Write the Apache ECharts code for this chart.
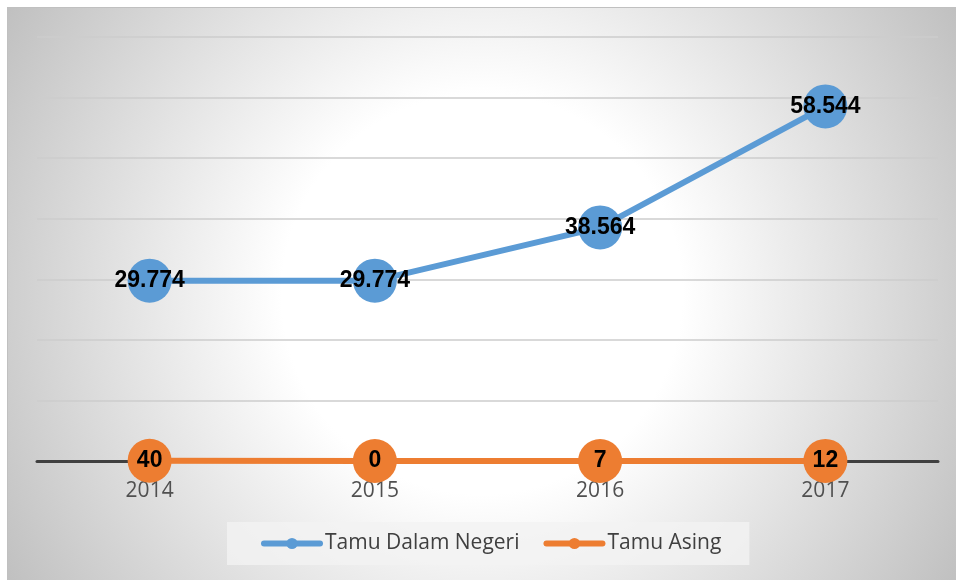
<!DOCTYPE html>
<html>
<head>
<meta charset="utf-8">
<script src="https://cdn.jsdelivr.net/npm/echarts@6/dist/echarts.min.js"></script>
<style>
  html, body { margin: 0; padding: 0; background: #ffffff; }
  #chart { position: absolute; left: 7px; top: 7px; width: 949px; height: 573px;
           border-top: 1px solid #c0c0c0; border-left: 1px solid #c0c0c0; box-sizing: border-box; }
</style>
</head>
<body>
<div id="chart"></div>
<script>
var years = ['2014', '2015', '2016', '2017'];
var tamuDalamNegeri = [29774, 29774, 38564, 58544];
var tamuAsing = [40, 0, 7, 12];

function fmt(v) {
    return String(v).replace(/\B(?=(\d{3})+(?!\d))/g, '.');
}

var labelStyle = {
    show: true,
    position: 'inside',
    color: '#000000',
    fontFamily: 'Liberation Sans',
    fontWeight: 'bold',
    fontSize: 23,
    formatter: function (p) { return fmt(p.value); }
};

var myChart = echarts.init(document.getElementById('chart'));
var option = {
    animation: false,
    backgroundColor: {
        type: 'radial', x: 0.5, y: 0.5, r: 1.0,
        colorStops: [
            {offset: 0, color: '#ffffff'},
            {offset: 0.35, color: '#ffffff'},
            {offset: 1, color: '#bdbdbd'}
        ]
    },
    grid: { left: 29, right: 18, top: 29, bottom: 119, containLabel: false },
    legend: {
        left: 219, top: 514,
        padding: [11, 28, 11, 34],
        backgroundColor: 'rgba(242,242,242,0.8)',
        itemWidth: 56, itemHeight: 14, itemGap: 24,
        lineStyle: { width: 6, cap: 'round' },
        textStyle: { color: '#404040', fontFamily: 'Open Sans', fontSize: 21 },
        data: ['Tamu Dalam Negeri', 'Tamu Asing']
    },
    xAxis: {
        type: 'category',
        data: years,
        boundaryGap: true,
        axisLine: { show: true, lineStyle: { color: '#404040', width: 3 } },
        axisTick: { show: false },
        axisLabel: { color: '#505050', fontFamily: 'Open Sans', fontSize: 21, margin: 20 }
    },
    yAxis: {
        type: 'value',
        min: 0, max: 70000, interval: 10000,
        axisLine: { show: false },
        axisTick: { show: false },
        axisLabel: { show: false },
        splitLine: { lineStyle: { color: '#cccccc', width: 1.5 } }
    },
    series: [
        {
            name: 'Tamu Dalam Negeri',
            type: 'line',
            data: tamuDalamNegeri,
            symbol: 'circle',
            symbolSize: 44,
            lineStyle: { color: '#5b9bd5', width: 6 },
            itemStyle: { color: '#5b9bd5' },
            label: labelStyle
        },
        {
            name: 'Tamu Asing',
            type: 'line',
            data: tamuAsing,
            symbol: 'circle',
            symbolSize: 44,
            lineStyle: { color: '#ed7d31', width: 6 },
            itemStyle: { color: '#ed7d31' },
            label: labelStyle
        }
    ]
};
myChart.setOption(option);
</script>
</body>
</html>
